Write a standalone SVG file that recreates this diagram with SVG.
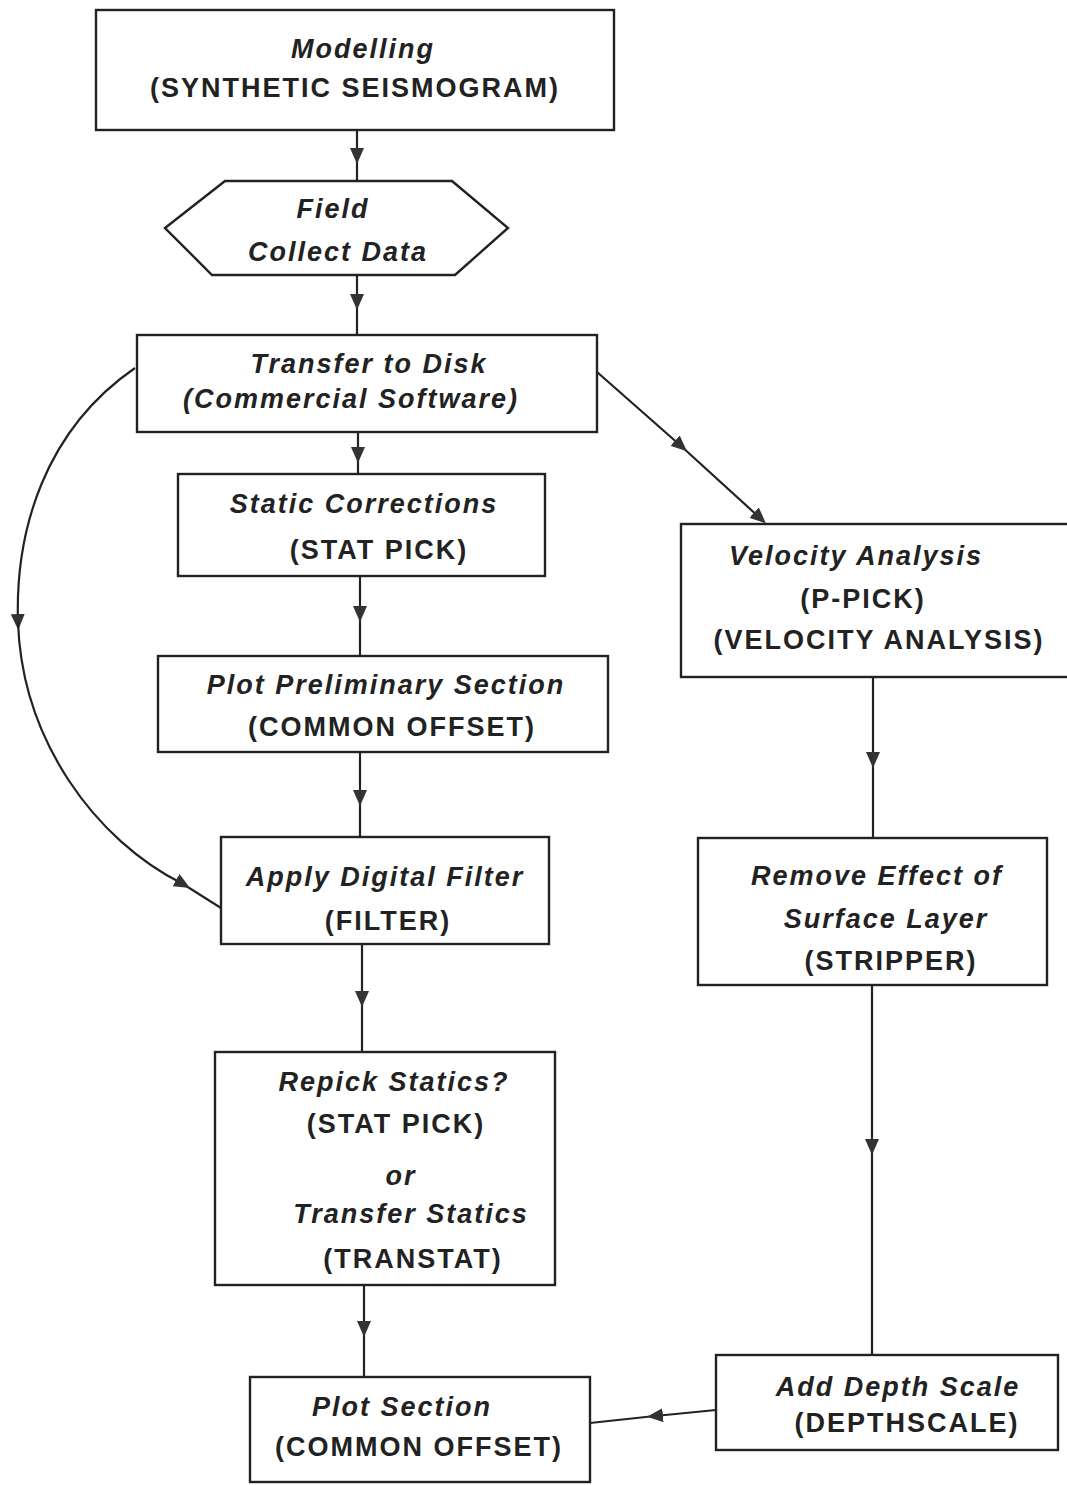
<svg xmlns="http://www.w3.org/2000/svg" width="1067" height="1485" viewBox="0 0 1067 1485">
<style>
.box{fill:none;stroke:#222;stroke-width:2.4}
.c{fill:none;stroke:#222;stroke-width:2.2}
.t{font-family:"Liberation Sans",Arial,sans-serif;font-size:27px;font-weight:bold;fill:#222;text-anchor:middle;letter-spacing:2px}
.i{font-style:italic}
</style>
<defs>
<marker id="ah" viewBox="0 0 16 14" refX="8" refY="7" markerWidth="16" markerHeight="14" markerUnits="userSpaceOnUse" orient="auto">
<path d="M0,0 L16,7 L0,14 Z" fill="#333"/>
</marker>
</defs>
<rect width="1067" height="1485" fill="#fff"/>
<g id="connectors">
<path class="c" d="M357,130 L357,156 L357,180" marker-mid="url(#ah)"/>
<path class="c" d="M357,275 L357,302 L357,335" marker-mid="url(#ah)"/>
<path class="c" d="M358,432 L358,455 L358,474" marker-mid="url(#ah)"/>
<path class="c" d="M360,576 L360,614 L360,656" marker-mid="url(#ah)"/>
<path class="c" d="M360,752 L360,798 L360,837" marker-mid="url(#ah)"/>
<path class="c" d="M362,944 L362,999 L362,1052" marker-mid="url(#ah)"/>
<path class="c" d="M364,1285 L364,1329 L364,1377" marker-mid="url(#ah)"/>
<path class="c" d="M873,677 L873,760 L873,838" marker-mid="url(#ah)"/>
<path class="c" d="M872,985 L872,1147 L872,1355" marker-mid="url(#ah)"/>
<path class="c" d="M716,1410 L655,1416 L590,1423" marker-mid="url(#ah)"/>
<path class="c" d="M597,372 L681,446 L760,518" marker-mid="url(#ah)" marker-end="url(#ah)"/>
<path class="c" d="M135,368 C45,430 15,530 18,622" marker-end="url(#ah)"/>
<path class="c" d="M18,622 C22,740 95,840 183,884 L221,908" marker-mid="url(#ah)"/>
</g>
<g id="modelling">
<rect class="box" x="96" y="10" width="518" height="120"/>
<text class="t i" x="363" y="58">Modelling</text>
<text class="t" x="355" y="97">(SYNTHETIC SEISMOGRAM)</text>
</g>
<g id="field">
<polygon class="box" points="165,228 225,181 452,181 508,228 455,275 212,275"/>
<text class="t i" x="333" y="218">Field</text>
<text class="t i" x="338" y="261">Collect Data</text>
</g>
<g id="transfer">
<rect class="box" x="137" y="335" width="460" height="97"/>
<text class="t i" x="369" y="373">Transfer to Disk</text>
<text class="t i" x="351" y="408">(Commercial Software)</text>
</g>
<g id="static">
<rect class="box" x="178" y="474" width="367" height="102"/>
<text class="t i" x="364" y="513">Static Corrections</text>
<text class="t" x="379" y="559">(STAT PICK)</text>
</g>
<g id="prelim">
<rect class="box" x="158" y="656" width="450" height="96"/>
<text class="t i" x="386" y="694">Plot Preliminary Section</text>
<text class="t" x="392" y="736">(COMMON OFFSET)</text>
</g>
<g id="filter">
<rect class="box" x="221" y="837" width="328" height="107"/>
<text class="t i" x="385" y="886">Apply Digital Filter</text>
<text class="t" x="388" y="930">(FILTER)</text>
</g>
<g id="repick">
<rect class="box" x="215" y="1052" width="340" height="233"/>
<text class="t i" x="394" y="1091">Repick Statics?</text>
<text class="t" x="396" y="1133">(STAT PICK)</text>
<text class="t i" x="401" y="1185">or</text>
<text class="t i" x="411" y="1223">Transfer Statics</text>
<text class="t" x="413" y="1268">(TRANSTAT)</text>
</g>
<g id="plotsection">
<rect class="box" x="250" y="1377" width="340" height="105"/>
<text class="t i" x="402" y="1416">Plot Section</text>
<text class="t" x="419" y="1456">(COMMON OFFSET)</text>
</g>
<g id="velocity">
<rect class="box" x="681" y="524" width="390" height="153"/>
<text class="t i" x="856" y="565">Velocity Analysis</text>
<text class="t" x="863" y="608">(P-PICK)</text>
<text class="t" x="879" y="649">(VELOCITY ANALYSIS)</text>
</g>
<g id="stripper">
<rect class="box" x="698" y="838" width="349" height="147"/>
<text class="t i" x="877" y="885">Remove Effect of</text>
<text class="t i" x="886" y="928">Surface Layer</text>
<text class="t" x="891" y="970">(STRIPPER)</text>
</g>
<g id="depthscale">
<rect class="box" x="716" y="1355" width="342" height="95"/>
<text class="t i" x="898" y="1396">Add Depth Scale</text>
<text class="t" x="907" y="1432">(DEPTHSCALE)</text>
</g>
</svg>
